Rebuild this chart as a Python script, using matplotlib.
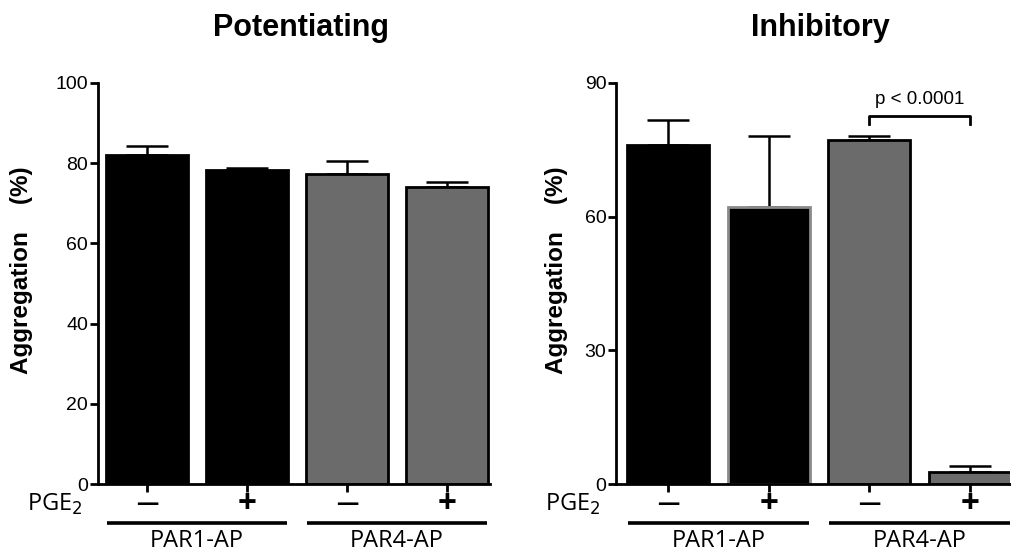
import matplotlib
matplotlib.use("Agg")
import matplotlib.pyplot as plt
from matplotlib.transforms import blended_transform_factory

# values
pge2_signs = ["\u2014", "+", "\u2014", "+"]
groups = ["PAR1-AP", "PAR4-AP"]

pot_mean = [82.0, 78.3, 77.2, 74.1]
pot_err = [2.4, 0.6, 3.4, 1.2]

inh_mean = [76.1, 62.2, 77.3, 2.6]
inh_err = [5.5, 15.8, 0.9, 1.5]

face = ["black", "black", "#6b6b6b", "#6b6b6b"]
inh_edge = ["black", "#8a8a8a", "black", "black"]

LAB = ["Open Sans", "DejaVu Sans"]
NUM = ["Liberation Sans", "DejaVu Sans"]

fig = plt.figure(figsize=(10.11, 5.57), dpi=100)
ax1 = fig.add_axes([0.0969, 0.131, 0.3878, 0.72])
ax2 = fig.add_axes([0.6093, 0.131, 0.3897, 0.72])


def draw_panel(ax, means, errs, edges, title, ymax, yticks, xlim, label_x):
    x = list(range(len(means)))
    ax.bar(x, means, width=0.82, color=face, edgecolor=edges, linewidth=2.0,
           zorder=2)
    ax.errorbar(x, means, yerr=[[0] * len(errs), errs], fmt="none",
                ecolor="black", elinewidth=1.8, capsize=14.8, capthick=1.8,
                zorder=1)
    ax.set_xlim(*xlim)
    ax.set_ylim(0, ymax)
    ax.set_yticks(yticks)
    ax.set_yticklabels([str(t) for t in yticks], fontsize=14, family=NUM)
    ax.spines["top"].set_visible(False)
    ax.spines["right"].set_visible(False)
    ax.spines["left"].set_linewidth(2.0)
    ax.spines["bottom"].set_linewidth(2.0)
    ax.tick_params(axis="y", width=2.0, length=6, pad=1)
    ax.set_xticks(x)
    ax.set_xticklabels([])
    ax.tick_params(axis="x", width=2.0, length=6, direction="out")
    ax.set_ylabel("Aggregation    (%)", fontsize=17.5, fontweight="bold",
                  family=NUM)
    ax.yaxis.set_label_coords(label_x, 0.534)
    ax.set_title(title, fontsize=22, fontweight="bold", family=NUM, pad=34,
                 x=0.518)

    tr = blended_transform_factory(ax.transData, ax.transAxes)
    for xi, s in zip(x, pge2_signs):
        ax.text(xi, -0.05, s, transform=tr, ha="center", va="center",
                fontsize=24 if s == "+" else 16, fontweight="bold",
                family=LAB)
    for gi, g in enumerate(groups):
        a, b = x[2 * gi], x[2 * gi + 1]
        ax.plot([a - 0.40, b + 0.40], [-0.097, -0.097], transform=tr,
                color="black", lw=2.6, clip_on=False, solid_capstyle="butt")
        ax.text((a + b) / 2, -0.143, g, transform=tr, ha="center",
                va="center", fontsize=17, family=LAB)


draw_panel(ax1, pot_mean, pot_err, ["black"] * 4, "Potentiating", 100,
           [0, 20, 40, 60, 80, 100], (-0.49, 3.43), -0.166)
draw_panel(ax2, inh_mean, inh_err, inh_edge, "Inhibitory", 90,
           [0, 30, 60, 90], (-0.52, 3.40), -0.122)

for ax in (ax1, ax2):
    ax.text(-0.04, -0.05, "PGE$_2$", transform=ax.transAxes, ha="right",
            va="center", fontsize=17, family=LAB)

# significance bracket between the two PAR4-AP bars
top = inh_mean[2] + inh_err[2] + 4.4
ax2.plot([2, 2, 3, 3], [top - 1.8, top, top, top - 1.8], color="black",
         lw=2.0, clip_on=False)
ax2.text(2.5, top + 1.8, "p < 0.0001", ha="center", va="bottom",
         fontsize=13.5, family=NUM)

fig.savefig("out.png", dpi=100)
